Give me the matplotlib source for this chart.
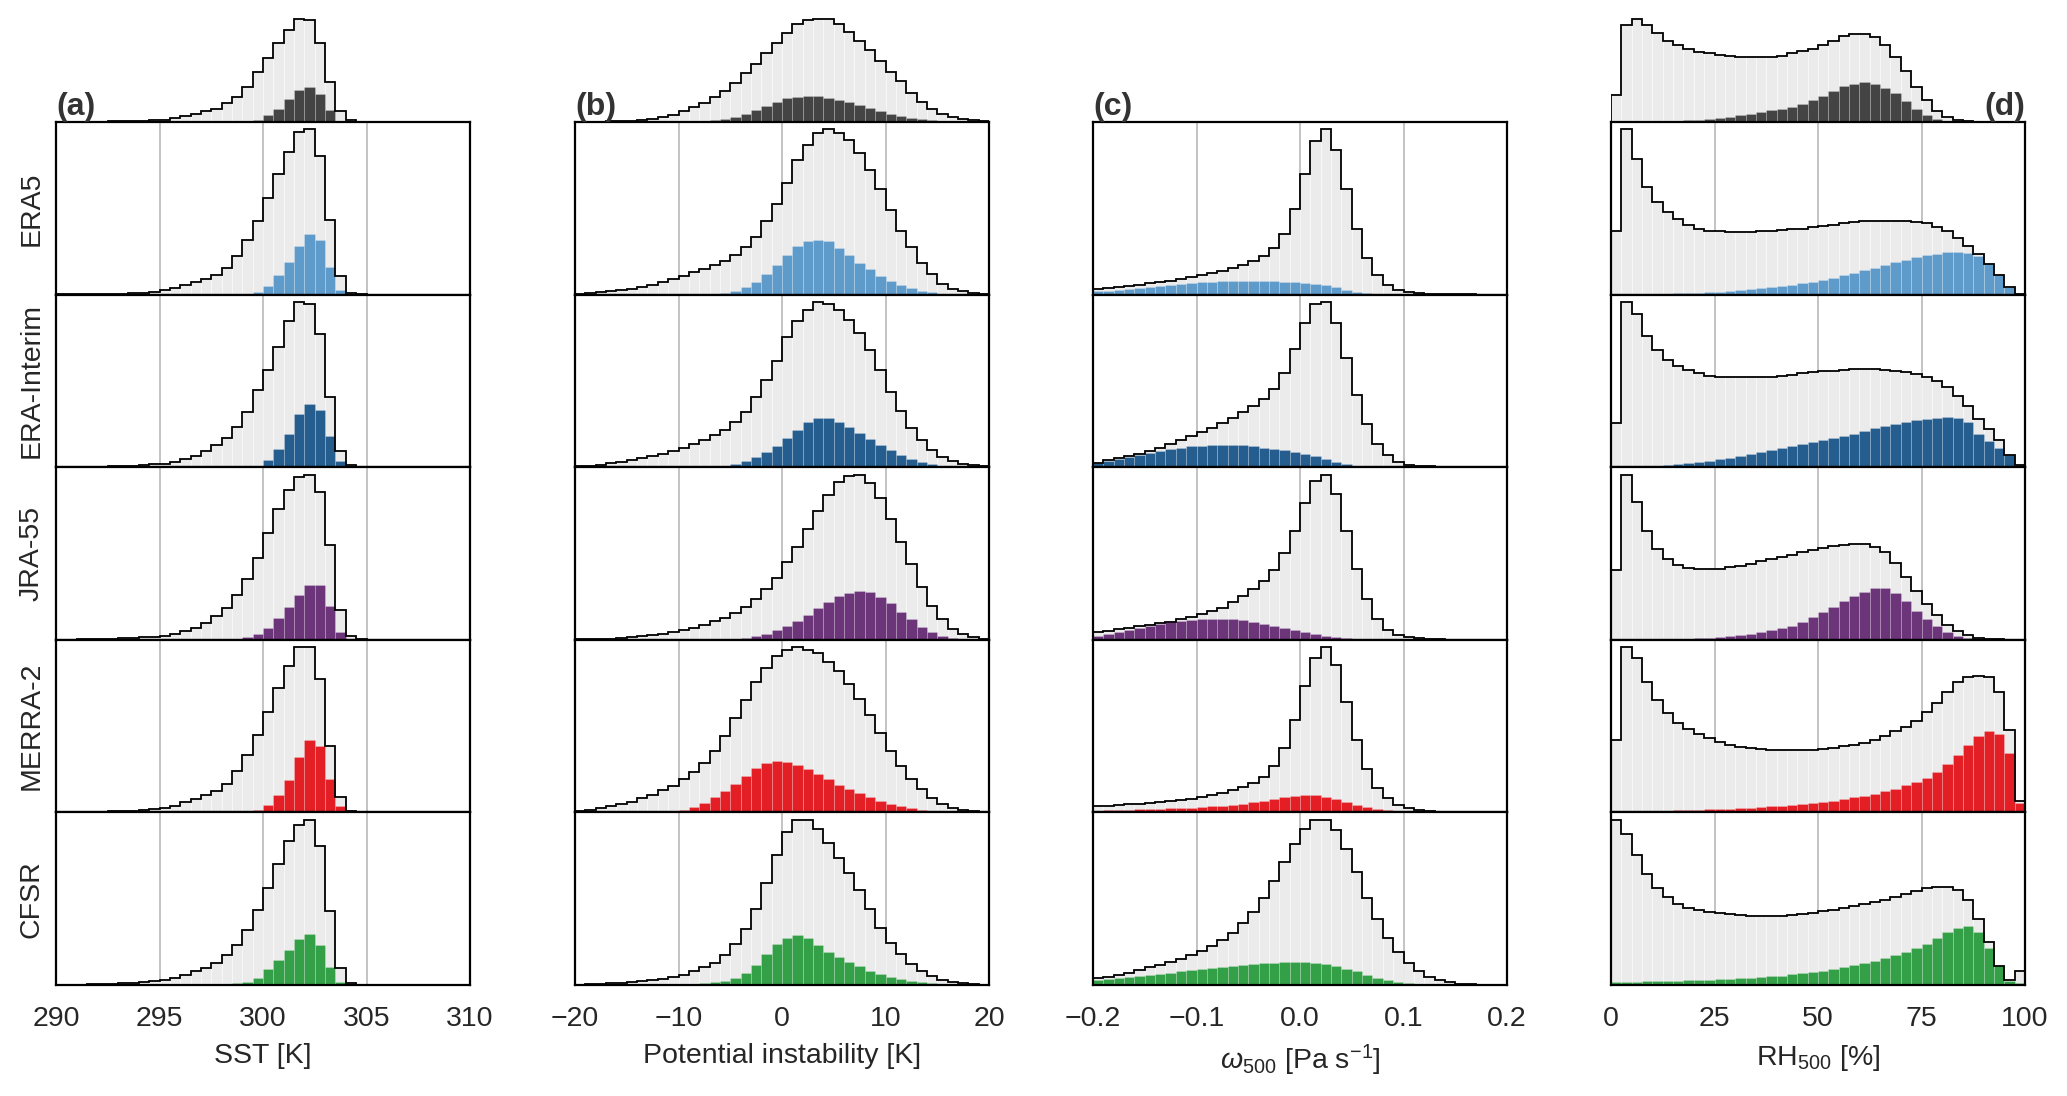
import numpy as np
import matplotlib
matplotlib.use("Agg")
import matplotlib.pyplot as plt

plt.rcParams['font.family'] = ['Liberation Sans', 'DejaVu Sans']
plt.rcParams['mathtext.fontset'] = 'custom'
plt.rcParams['mathtext.rm'] = 'Liberation Sans'
plt.rcParams['mathtext.it'] = 'Liberation Sans:italic'

# ---- data (relative bin counts, 40 bins per variable) ----
reanalyses = ["ERA5", "ERA-Interim", "JRA-55", "MERRA-2", "CFSR"]
colors = ["#5E9BCB", "#255E8E", "#6C357A", "#E31E25", "#33A047"]

# (a) SST, 290-310 K, 0.5 K bins
sst_marg_all = [0.3, 0.4, 0.6, 0.8, 1, 1.5, 2, 3, 4, 5.5, 7, 12, 19, 25, 32, 40, 56, 74, 104, 148,
                189, 234, 274, 307, 302, 234, 120, 34, 5, 1, 0, 0, 0, 0, 0, 0, 0, 0, 0, 0]
sst_marg_sub = [0, 0, 0, 0, 0, 0, 0, 0, 0, 0, 0, 0, 0, 0, 0, 0, 0, 0, 1, 7,
                20, 40, 67, 95, 105, 82, 35, 2, 0, 0, 0, 0, 0, 0, 0, 0, 0, 0, 0, 0]
sst_era5_all = [0.5, 0.5, 1, 1, 1.5, 2, 3, 4, 6, 9, 14, 20, 30, 37, 45, 57, 80, 114, 162, 220,
                288, 360, 425, 484, 492, 414, 222, 54, 5, 1, 0, 0, 0, 0, 0, 0, 0, 0, 0, 0]
sst_era5_sub = [0, 0, 0, 0, 0, 0, 0, 0, 0, 0, 0, 0, 0, 0, 0, 0, 0, 0, 2, 8,
                26, 58, 98, 146, 180, 162, 82, 14, 1, 0, 0, 0, 0, 0, 0, 0, 0, 0, 0, 0]
sst_erai_all = [0.5, 0.5, 1, 1.5, 2, 3, 4, 5, 7, 9, 10, 16, 24, 34, 48, 65, 88, 121, 165, 230,
                290, 358, 435, 493, 488, 398, 211, 48, 8, 1, 0, 0, 0, 0, 0, 0, 0, 0, 0, 0]
sst_erai_sub = [0, 0, 0, 0, 0, 0, 0, 0, 0, 0, 0, 0, 0, 0, 0, 0, 0, 0, 0, 5,
                22, 54, 100, 158, 190, 170, 92, 18, 1, 0, 0, 0, 0, 0, 0, 0, 0, 0, 0, 0]
sst_jra_all = [0.5, 0.5, 1, 1.5, 2, 3, 4, 5, 7, 9, 12, 18, 26, 36, 50, 70, 95, 132, 180, 242,
               315, 385, 442, 480, 488, 438, 280, 88, 10, 1, 0, 0, 0, 0, 0, 0, 0, 0, 0, 0]
sst_jra_sub = [0, 0, 0, 0, 0, 0, 0, 0, 0, 0, 0, 0, 0, 0, 0, 0, 0, 3, 8, 18,
               35, 63, 98, 132, 162, 162, 100, 22, 1, 0, 0, 0, 0, 0, 0, 0, 0, 0, 0, 0]
sst_merra_all = [0.5, 0.5, 1, 1.5, 2, 3, 4, 5.5, 7, 9.5, 12, 20, 30, 40, 50, 62, 85, 122, 168, 228,
                 296, 366, 432, 487, 487, 392, 196, 44, 5, 1, 0, 0, 0, 0, 0, 0, 0, 0, 0, 0]
sst_merra_sub = [0, 0, 0, 0, 0, 0, 0, 0, 0, 0, 0, 0, 0, 0, 0, 0, 0, 0, 2, 8,
                 22, 50, 96, 162, 214, 196, 98, 20, 1, 0, 0, 0, 0, 0, 0, 0, 0, 0, 0, 0]
sst_cfsr_all = [0.5, 0.7, 1, 1.5, 2.5, 3.5, 5, 6.5, 8.5, 11, 14, 22, 30, 40, 50, 64, 88, 118, 162, 222,
                286, 358, 426, 472, 487, 410, 218, 50, 5, 1, 0, 0, 0, 0, 0, 0, 0, 0, 0, 0]
sst_cfsr_sub = [0, 0, 0, 0, 0, 0, 0, 0, 0, 0, 0, 0, 0, 0, 0, 0, 2, 5, 10, 20,
                46, 74, 104, 136, 150, 118, 54, 10, 1, 0, 0, 0, 0, 0, 0, 0, 0, 0, 0, 0]

# (b) potential instability, -20..20 K, 1 K bins
pi_marg_all = [0.5, 0.5, 1, 1.5, 2, 3.5, 5, 10, 15, 22, 34, 44, 57, 74, 92, 117, 147, 172, 205, 234,
               264, 290, 302, 307, 305, 292, 267, 242, 214, 182, 150, 122, 87, 60, 40, 24, 14, 9, 5, 2]
pi_marg_sub = [0, 0, 0, 0, 0, 0, 0, 0, 0.3, 0.5, 1, 1.5, 2, 5, 9, 15, 25, 37, 47, 58,
               70, 75, 77, 76, 72, 66, 58, 50, 42, 33, 25, 18, 12, 8, 5, 3, 1, 0.5, 0.3, 0]
pi_era5_all = [2, 4, 7, 10, 14, 18, 24, 30, 38, 47, 56, 66, 76, 87, 100, 118, 142, 172, 218, 270,
               332, 400, 445, 480, 492, 482, 460, 422, 370, 315, 252, 190, 142, 95, 60, 32, 18, 10, 6, 3]
pi_era5_sub = [0, 0, 0, 0, 0, 0, 0, 0, 0, 0, 0, 0, 1, 3, 6, 12, 22, 37, 60, 87,
               117, 145, 160, 164, 160, 138, 117, 95, 77, 55, 40, 28, 20, 12, 7, 3, 1, 0, 0, 0]
pi_erai_all = [3, 5, 8, 12, 16, 20, 26, 33, 40, 48, 58, 68, 80, 95, 112, 135, 165, 210, 260, 318,
               390, 435, 470, 493, 488, 470, 440, 400, 350, 290, 225, 168, 118, 80, 50, 30, 18, 10, 6, 3]
pi_erai_sub = [0, 0, 0, 0, 0, 0, 0, 0, 0, 0, 0, 0, 0, 2, 5, 10, 18, 30, 45, 63,
               88, 112, 134, 146, 146, 135, 120, 102, 85, 66, 50, 36, 25, 16, 10, 5, 2, 1, 0, 0]
pi_jra_all = [1, 1, 2, 3, 5, 7, 10, 14, 18, 23, 30, 36, 43, 55, 65, 78, 98, 122, 150, 184,
              230, 275, 327, 380, 428, 465, 485, 488, 464, 420, 358, 290, 225, 155, 100, 62, 33, 16, 8, 3]
pi_jra_sub = [0, 0, 0, 0, 0, 0, 0, 0, 0, 0, 0, 0, 0, 0, 0, 2, 5, 10, 18, 30,
              40, 55, 72, 95, 112, 128, 138, 144, 140, 127, 108, 82, 60, 38, 22, 10, 4, 1, 0, 0]
pi_merra_all = [4, 7, 12, 18, 24, 32, 42, 52, 65, 78, 98, 118, 147, 182, 225, 278, 332, 385, 427, 462,
                478, 487, 480, 470, 442, 418, 380, 335, 288, 235, 182, 137, 98, 68, 42, 24, 12, 7, 4, 2]
pi_merra_sub = [0, 0, 0, 0, 0, 0, 0.5, 1, 2, 4, 8, 16, 28, 45, 62, 85, 108, 130, 146, 152,
                150, 140, 128, 112, 98, 82, 70, 58, 46, 34, 25, 18, 12, 7, 4, 2, 1, 0.5, 0, 0]
pi_cfsr_all = [1, 2, 3, 5, 6, 8, 11, 14, 18, 24, 30, 40, 52, 66, 88, 120, 165, 225, 302, 382,
               450, 487, 487, 460, 420, 375, 330, 280, 225, 168, 125, 90, 62, 40, 26, 16, 9, 5, 3, 1]
pi_cfsr_sub = [0, 0, 0, 0, 0, 0, 0, 0, 0, 0, 1, 3, 5, 8, 12, 20, 35, 58, 90, 120,
               140, 147, 138, 118, 98, 82, 68, 55, 42, 32, 24, 17, 12, 8, 5, 3, 1, 0, 0, 0]

# (c) omega500, -0.2..0.2 Pa/s, 0.01 bins (no marginal)
w_era5_all = [18, 20, 23, 26, 30, 34, 38, 42, 46, 52, 58, 64, 70, 78, 88, 100, 115, 138, 180, 256,
              360, 458, 492, 432, 316, 196, 110, 58, 28, 14, 7, 4, 2, 1, 0.5, 0.5, 0.3, 0.2, 0.1, 0.1]
w_era5_sub = [10, 12, 15, 18, 21, 24, 27, 30, 33, 35, 37, 39, 40, 41, 42, 42, 42, 41, 39, 37,
              35, 32, 28, 22, 15, 8, 4, 1, 0, 0, 0, 0, 0, 0, 0, 0, 0, 0, 0, 0]
w_erai_all = [14, 20, 26, 32, 40, 48, 58, 68, 80, 92, 105, 118, 132, 148, 164, 182, 205, 233, 282, 352,
              430, 488, 493, 430, 325, 215, 128, 70, 36, 16, 8, 5, 3, 2, 1, 0.5, 0.5, 0.3, 0.2, 0.1]
w_erai_sub = [12, 18, 24, 30, 36, 42, 48, 54, 58, 62, 64, 66, 66, 66, 65, 62, 58, 54, 50, 45,
              40, 32, 24, 16, 10, 5, 2, 1, 0, 0, 0, 0, 0, 0, 0, 0, 0, 0, 0, 0]
w_jra_all = [22, 27, 32, 36, 40, 44, 49, 54, 60, 68, 75, 85, 95, 112, 130, 150, 175, 207, 256, 322,
             404, 470, 488, 430, 322, 208, 120, 62, 30, 14, 8, 4, 2, 1, 0.5, 0.5, 0.3, 0.2, 0.1, 0.1]
w_jra_sub = [12, 18, 24, 30, 35, 40, 46, 52, 56, 59, 61, 62, 62, 61, 59, 54, 48, 42, 36, 30,
             24, 18, 12, 7, 4, 2, 1, 0, 0, 0, 0, 0, 0, 0, 0, 0, 0, 0, 0, 0]
w_merra_all = [18, 20, 22, 24, 26, 28, 30, 33, 36, 40, 44, 50, 57, 65, 75, 87, 105, 137, 190, 272,
               372, 455, 487, 435, 325, 214, 128, 72, 42, 22, 12, 7, 4, 2, 1, 0.5, 0.3, 0.2, 0.1, 0.1]
w_merra_sub = [5, 6, 7, 8, 9, 10, 11, 12, 13, 14, 16, 18, 20, 23, 26, 30, 34, 39, 44, 48,
               50, 50, 46, 40, 30, 22, 15, 10, 6, 4, 2, 1, 0, 0, 0, 0, 0, 0, 0, 0]
w_cfsr_all = [20, 24, 30, 36, 44, 52, 60, 69, 78, 88, 100, 114, 132, 154, 182, 216, 256, 306, 362, 416,
              459, 487, 487, 457, 402, 332, 256, 194, 138, 96, 64, 40, 24, 14, 8, 4, 2, 1, 0.5, 0.5]
w_cfsr_sub = [14, 17, 20, 23, 26, 30, 33, 36, 40, 43, 46, 50, 53, 56, 59, 62, 64, 66, 67, 67,
              67, 65, 62, 56, 48, 40, 30, 22, 15, 10, 6, 4, 2, 1, 0, 0, 0, 0, 0, 0]

# (d) RH500, 0..100 %, 2.5 % bins
rh_marg_all = [79, 287, 307, 289, 264, 242, 229, 217, 209, 204, 200, 197, 194, 192, 192, 192, 197, 204, 210, 217,
               229, 242, 254, 260, 260, 252, 229, 194, 152, 104, 64, 32, 14, 6, 2, 1, 0.5, 0.3, 0.2, 0.1]
rh_marg_sub = [0, 0.5, 1, 1, 2, 3, 4, 5, 7, 9, 12, 16, 20, 25, 30, 35, 40, 46, 54, 65,
               78, 92, 106, 113, 118, 114, 102, 86, 62, 40, 20, 8, 3, 1, 0.5, 0.2, 0, 0, 0, 0]
rh_era5_all = [188, 492, 404, 322, 276, 246, 224, 208, 196, 190, 188, 186, 186, 186, 188, 190, 192, 194, 196, 200,
               203, 208, 212, 216, 218, 220, 220, 220, 218, 216, 212, 202, 190, 170, 145, 120, 90, 58, 22, 1]
rh_era5_sub = [0, 0, 1, 1, 2, 3, 4, 5, 6, 7, 9, 11, 13, 16, 19, 22, 26, 30, 34, 39,
               44, 50, 57, 64, 72, 80, 88, 96, 104, 112, 118, 122, 126, 128, 124, 116, 90, 58, 22, 1]
rh_erai_all = [133, 493, 458, 393, 350, 320, 303, 290, 280, 273, 270, 268, 268, 268, 268, 270, 272, 276, 280, 284,
               286, 288, 290, 292, 292, 292, 290, 288, 284, 278, 270, 256, 240, 213, 183, 143, 113, 80, 36, 8]
rh_erai_sub = [0, 1, 2, 3, 5, 7, 9, 12, 15, 19, 23, 28, 33, 38, 44, 50, 56, 62, 68, 74,
               80, 86, 93, 100, 108, 116, 122, 128, 134, 140, 144, 148, 150, 148, 136, 100, 78, 58, 36, 8]
rh_jra_all = [205, 488, 408, 322, 268, 240, 222, 212, 208, 208, 210, 214, 218, 225, 232, 238, 245, 252, 260, 266,
              272, 276, 280, 282, 282, 275, 260, 228, 185, 143, 105, 72, 45, 25, 13, 6, 3, 1, 0.5, 0.2]
rh_jra_sub = [0, 0, 0, 0, 1, 1, 2, 3, 4, 6, 8, 11, 14, 18, 22, 28, 34, 40, 52, 66,
              82, 98, 114, 128, 140, 154, 154, 138, 116, 86, 62, 40, 22, 10, 5, 2, 1, 0, 0, 0]
rh_merra_all = [212, 487, 455, 385, 330, 292, 265, 245, 230, 218, 208, 200, 194, 190, 187, 185, 184, 183, 183, 184,
                186, 190, 195, 200, 206, 214, 225, 240, 252, 270, 295, 322, 354, 385, 400, 402, 400, 355, 242, 35]
rh_merra_sub = [1, 2, 2, 3, 4, 5, 6, 7, 8, 9, 10, 11, 12, 14, 16, 18, 20, 22, 25, 28,
                31, 35, 39, 44, 49, 55, 62, 70, 80, 90, 102, 120, 142, 168, 198, 225, 240, 232, 175, 28]
rh_cfsr_all = [487, 444, 382, 327, 287, 260, 240, 227, 220, 216, 212, 208, 205, 204, 202, 202, 203, 205, 208, 212,
               217, 222, 227, 232, 238, 244, 252, 260, 268, 278, 286, 290, 290, 280, 250, 194, 127, 57, 14, 40]
rh_cfsr_sub = [10, 10, 10, 11, 11, 12, 13, 14, 15, 16, 17, 18, 20, 22, 24, 26, 28, 31, 34, 38,
               42, 47, 52, 58, 65, 72, 80, 87, 97, 110, 122, 140, 157, 167, 174, 157, 110, 57, 12, 7]

variables = [
    dict(lim=(290, 310), ticks=[290, 295, 300, 305, 310], ticklabels=["290", "295", "300", "305", "310"],
         xlabel="SST [K]", letter="(a)", marg=(sst_marg_all, sst_marg_sub),
         rows=[(sst_era5_all, sst_era5_sub), (sst_erai_all, sst_erai_sub), (sst_jra_all, sst_jra_sub),
               (sst_merra_all, sst_merra_sub), (sst_cfsr_all, sst_cfsr_sub)]),
    dict(lim=(-20, 20), ticks=[-20, -10, 0, 10, 20], ticklabels=["\u221220", "\u221210", "0", "10", "20"],
         xlabel="Potential instability [K]", letter="(b)", marg=(pi_marg_all, pi_marg_sub),
         rows=[(pi_era5_all, pi_era5_sub), (pi_erai_all, pi_erai_sub), (pi_jra_all, pi_jra_sub),
               (pi_merra_all, pi_merra_sub), (pi_cfsr_all, pi_cfsr_sub)]),
    dict(lim=(-0.2, 0.2), ticks=[-0.2, -0.1, 0.0, 0.1, 0.2],
         ticklabels=["\u22120.2", "\u22120.1", "0.0", "0.1", "0.2"],
         xlabel=r"$\omega_{500}$ [Pa s$^{-1}$]", letter="(c)", marg=None,
         rows=[(w_era5_all, w_era5_sub), (w_erai_all, w_erai_sub), (w_jra_all, w_jra_sub),
               (w_merra_all, w_merra_sub), (w_cfsr_all, w_cfsr_sub)]),
    dict(lim=(0, 100), ticks=[0, 25, 50, 75, 100], ticklabels=["0", "25", "50", "75", "100"],
         xlabel=r"RH$_{500}$ [%]", letter="(d)", marg=(rh_marg_all, rh_marg_sub),
         rows=[(rh_era5_all, rh_era5_sub), (rh_erai_all, rh_erai_sub), (rh_jra_all, rh_jra_sub),
               (rh_merra_all, rh_merra_sub), (rh_cfsr_all, rh_cfsr_sub)]),
]

TEXT = "#262626"
W, H = 2067, 1096
col_left = [56, 575, 1093, 1611]
col_w = 414
top = 122
row_h = 172.6
marg_h = 108

fig = plt.figure(figsize=(W / 100, H / 100), dpi=100)


def px_axes(x, y_top, w, h):
    return fig.add_axes([x / W, 1 - (y_top + h) / H, w / W, h / H])


def draw_hist(ax, edges, all_vals, sub_vals, color):
    width = edges[1] - edges[0]
    ax.bar(edges[:-1], all_vals, width=width, align='edge', color='#EBEBEB',
           edgecolor=(1, 1, 1, 0.55), linewidth=0.6, zorder=1)
    ax.bar(edges[:-1], sub_vals, width=width, align='edge', color=color,
           edgecolor=(1, 1, 1, 0.22), linewidth=0.6, zorder=2)
    ax.stairs(all_vals, edges, baseline=0, color='black', linewidth=1.3, zorder=3)
    ax.set_xlim(edges[0], edges[-1])
    ax.set_ylim(0, max(all_vals) * 1.045)


for c, var in enumerate(variables):
    edges = np.linspace(var["lim"][0], var["lim"][1], 41)
    x0 = col_left[c]

    # marginal histogram on top (all reanalyses together)
    if var["marg"] is not None:
        axm = px_axes(x0, top - marg_h, col_w, marg_h)
        draw_hist(axm, edges, var["marg"][0], var["marg"][1], "#444444")
        axm.axis('off')

    for r in range(5):
        ax = px_axes(x0, top + r * row_h, col_w, row_h)
        all_vals, sub_vals = var["rows"][r]
        draw_hist(ax, edges, all_vals, sub_vals, colors[r])
        ax.set_xticks(var["ticks"])
        ax.set_xticklabels(var["ticklabels"])
        ax.set_yticks([])
        ax.set_axisbelow(True)
        ax.grid(axis='x', color='#BEBEBE', linewidth=1.3)
        ax.tick_params(axis='x', length=0, labelsize=20.5, pad=15, colors=TEXT,
                       labelbottom=(r == 4))
        for s in ax.spines.values():
            s.set_linewidth(1.6)
            s.set_color('black')
            s.set_zorder(4)
        if c == 0:
            ax.set_ylabel(reanalyses[r], fontsize=20.5, labelpad=8, color=TEXT)
        if r == 0:
            if c == 3:
                ax.text(1.0, 1.0, var["letter"], transform=ax.transAxes, ha='right', va='bottom',
                        fontsize=23, fontweight='bold', color='#333333', zorder=10)
            else:
                ax.text(0.0, 1.0, var["letter"], transform=ax.transAxes, ha='left', va='bottom',
                        fontsize=23, fontweight='bold', color='#333333', zorder=10)
        if r == 4:
            ax.set_xlabel(var["xlabel"], fontsize=20.5, labelpad=8, color=TEXT)

fig.savefig("out.png", dpi=100)
